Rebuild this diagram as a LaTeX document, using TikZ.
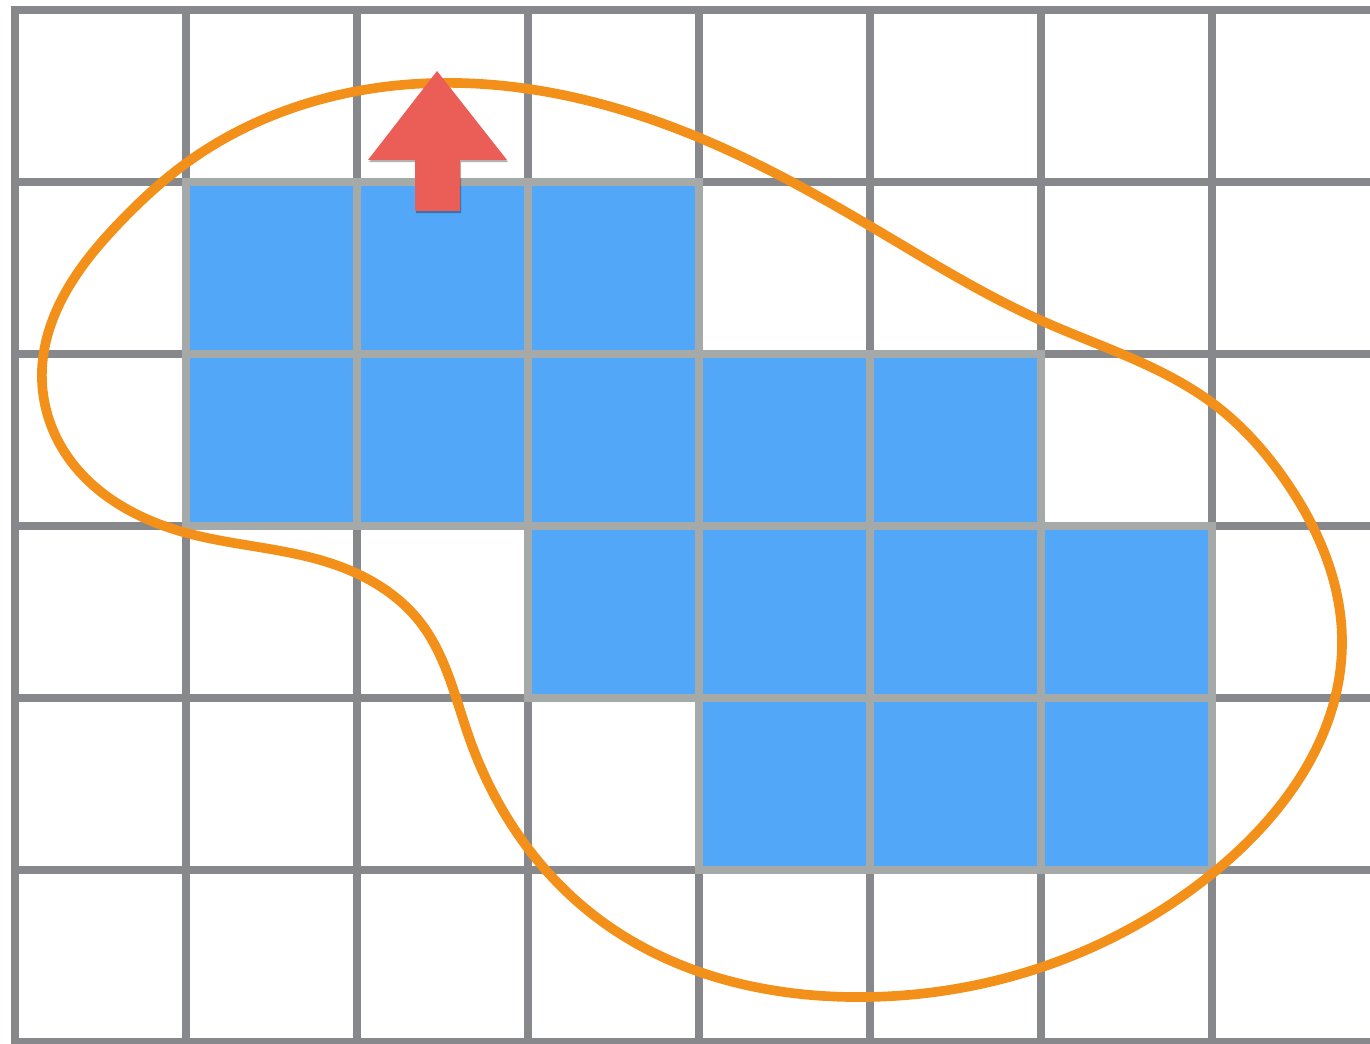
\documentclass[tikz,border=0pt]{standalone}
\usepackage{xcolor}
\usepackage{tikz}
\usetikzlibrary{shadows,hobby}
\definecolor{gridgray}{HTML}{86888C}
\definecolor{cellblue}{HTML}{52A7F8}
\definecolor{cellgray}{HTML}{A5A9A8}
\definecolor{bloborange}{HTML}{F39019}
\definecolor{arrowred}{HTML}{EB5E58}

\begin{document}
\begin{tikzpicture}[
  x=0.02cm, y=-0.02cm,
  gridline/.style={draw=gridgray, line width=4pt},
  cellbox/.style={fill=cellblue, draw=cellgray, line width=4.3pt},
  blobline/.style={draw=bloborange, line width=5.5pt},
  uparrow/.style={
    fill=arrowred,
    drop shadow={shadow xshift=0.6pt, shadow yshift=-1.2pt, opacity=0.3, fill=black},
  },
]
\useasboundingbox (0,0) rectangle (1370,1044);

% grid
\foreach \i in {0,...,7}
  \draw[gridline] (15+171*\i,6.5) -- (15+171*\i,1044);
\foreach \j in {0,...,6}
  \draw[gridline] (11.5,10+172*\j) -- (1370,10+172*\j);

% selected cells
\foreach \c/\r in {1/1,2/1,3/1,
                   1/2,2/2,3/2,4/2,5/2,
                   3/3,4/3,5/3,6/3,
                   4/4,5/4,6/4}
  \draw[cellbox] (15+171*\c,10+172*\r) rectangle ++(171,172);

% outline
\draw[blobline, use Hobby shortcut, closed=true]
  (437,83) .. (700,138) .. (870,226) .. (1040,320) .. (1215,405)
  .. (1285,480) .. (1342,645) .. (1213,873) .. (850,997) .. (600,920)
  .. (470,740) .. (420,622) .. (330,563) .. (183,532) .. (62,448)
  .. (42,370) .. (68,288) .. (122,220) .. (185,164);

% arrow
\path[uparrow] (437,71) -- (507,160) -- (460,160) -- (460,211)
  -- (415,211) -- (415,160) -- (368,160) -- cycle;

\end{tikzpicture}
\end{document}
